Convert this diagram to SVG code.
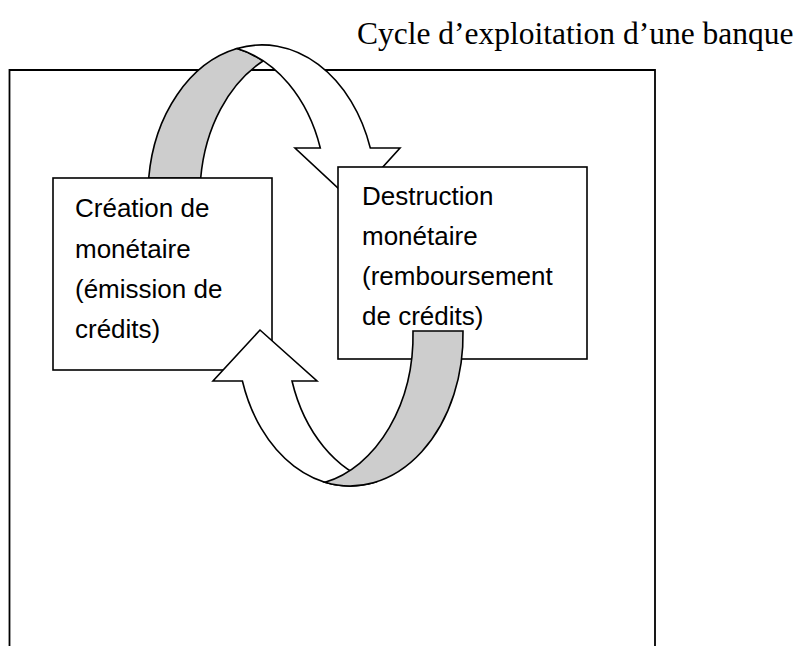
<svg xmlns="http://www.w3.org/2000/svg" width="800" height="646" viewBox="0 0 800 646">
<style>
.frame{fill:none;stroke:#000;stroke-width:1.8}
.box{fill:#fff;stroke:#000;stroke-width:1.6}
.band{stroke:#000;stroke-width:1.6;stroke-linejoin:miter}
.grey{fill:#cdcdcd}
.white{fill:#fff}
.lbl{font-family:"Liberation Sans",Arial,sans-serif;font-size:26px;fill:#000}
.title{font-family:"Liberation Serif","Times New Roman",serif;font-size:31.5px;fill:#000}
</style>
<rect width="800" height="646" fill="#fff"/>
<text class="title" x="357" y="44">Cycle d’exploitation d’une banque</text>
<path class="frame" d="M9.5,650 V70 H655 V650"/>
<g id="connectors">
  <g id="arrow-top">
    <path class="band grey" d="M148.7,178 A114,150 0 0 1 237,48.6 A114,150 0 0 1 263,61 A114,150 0 0 0 200.7,178 Z"/>
    <path class="band white" d="M237,48.6 A114,150 0 0 1 370.3,148 L400,148 L352,201 L295,148 L320.3,148 A114,150 0 0 0 237,48.6 Z"/>
  </g>
</g>
<g id="node-creation">
  <rect class="box" x="53" y="178" width="219" height="192"/>
  <text class="lbl" x="75" y="217">Création de</text>
  <text class="lbl" x="75" y="258">monétaire</text>
  <text class="lbl" x="75" y="298">(émission de</text>
  <text class="lbl" x="75" y="338">crédits)</text>
</g>
<g id="node-destruction">
  <rect class="box" x="338" y="167" width="249" height="192"/>
  <text class="lbl" x="362" y="205">Destruction</text>
  <text class="lbl" x="362" y="245">monétaire</text>
  <text class="lbl" x="362" y="285">(remboursement</text>
  <text class="lbl" x="362" y="325">de crédits)</text>
</g>
<g id="connectors-bottom">
  <g id="arrow-bottom">
    <path class="band white" d="M242.4,381 A113,151 0 0 0 375,482.3 A113,151 0 0 1 292,381 L317,381 L260,330 L213,381 Z"/>
    <path class="band grey" d="M463,331 A113,151 0 0 1 325,482.3 A113,151 0 0 0 413,331 Z"/>
  </g>
</g>
</svg>
